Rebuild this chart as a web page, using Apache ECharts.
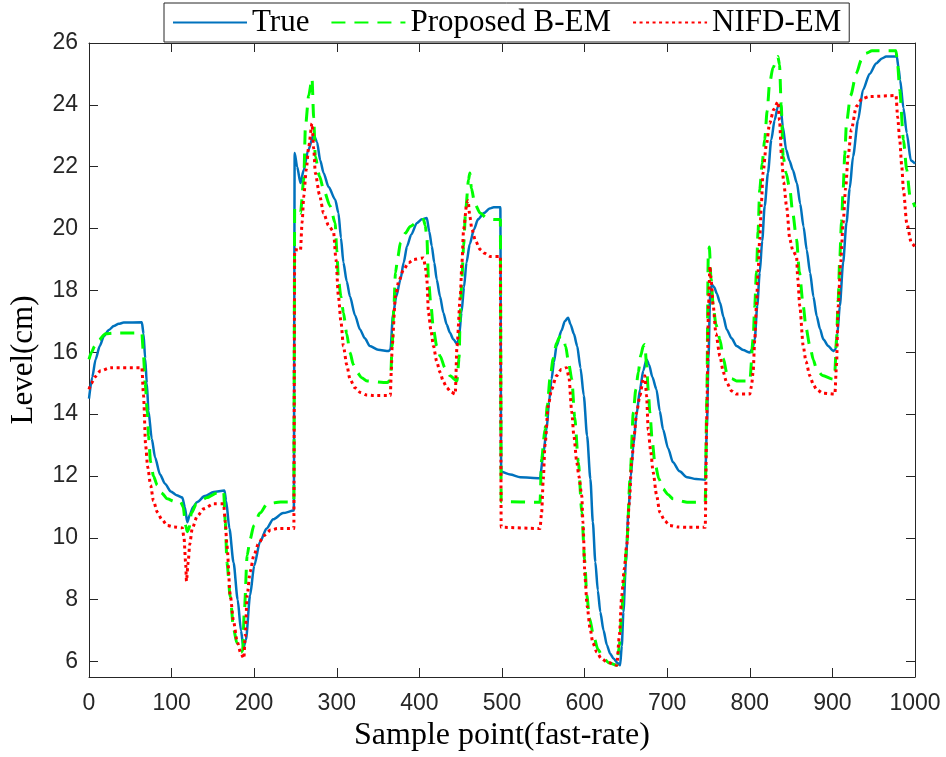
<!DOCTYPE html>
<html>
<head>
<meta charset="utf-8">
<script src="https://cdn.jsdelivr.net/npm/echarts@6/dist/echarts.min.js"></script>
<style>
html,body{margin:0;padding:0;background:#fff;}
#chart{width:946px;height:757px;}
</style>
</head>
<body>
<div id="chart"></div>
<script>
// ---- data (sample point, level in cm) ----
const seriesNames = ['True', 'Proposed B-EM', 'NIFD-EM'];
const xTicks = [0,100,200,300,400,500,600,700,800,900,1000];
const yTicks = [6,8,10,12,14,16,18,20,22,24,26];

const trueLevel = [
[0,14.5],[4,15.2],[8,15.77],[13,16.2],[18,16.52],[24,16.72],[30,16.85],[36,16.92],[42,16.96],[64,16.97],
[66,16.6],[68,15.8],[70,15.0],[72,14.1],[76,13.2],[80,12.6],[86,12.05],[92,11.75],[99,11.5],[106,11.38],
[113,11.3],[116,11.0],[119,10.5],[122,10.75],[126,11.0],[131,11.16],[140,11.35],[151,11.48],[164,11.53],
[166,11.2],[170,10.3],[175,9.2],[180,8.0],[184,7.0],[187,6.45],[190,6.7],[195,8.14],[200,9.1],[207,9.87],
[215,10.3],[223,10.6],[235,10.8],[248,10.88],[249,22.44],[252,22.0],[256,21.47],[260,21.9],[265,22.5],
[272,23.03],[276,22.8],[280,22.2],[284,21.8],[290,21.35],[298,20.94],[302,20.5],[305,19.7],[308,18.9],
[312,18.3],[316,17.8],[322,17.2],[328,16.74],[334,16.45],[340,16.2],[350,16.08],[363,16.04],[365,16.1],
[368,17.2],[372,17.8],[377,18.35],[381,18.9],[385,19.43],[390,19.8],[397,20.18],[403,20.3],[409,20.34],
[412,19.9],[415,19.43],[418,18.9],[421,18.35],[425,17.8],[429,17.28],[433,16.9],[437,16.63],[441,16.42],
[446,16.26],[448,16.5],[451,17.28],[454,18.1],[457,18.9],[461,19.5],[466,19.97],[471,20.3],[478,20.5],
[485,20.65],[490,20.69],[498,20.69],[499,12.14],[510,12.05],[522,11.96],[546,11.93],[550,12.7],[554,13.5],
[557,14.4],[560,15.13],[563,15.7],[566,16.2],[572,16.7],[576,17.0],[580,17.12],[583,16.9],[587,16.6],
[591,16.2],[595,15.5],[599,14.6],[603,13.3],[607,11.9],[610,10.5],[613,9.22],[616,8.3],[619,7.6],[623,7.0],
[627,6.53],[631,6.25],[635,6.1],[640,5.95],[643,5.88],[645,6.5],[647,7.6],[650,9.2],[653,10.83],[656,12.0],
[659,12.98],[663,14.0],[667,14.8],[671,15.4],[675,15.77],[678,15.6],[682,15.2],[687,14.8],[691,14.1],
[695,13.5],[701,12.9],[707,12.44],[715,12.15],[724,11.96],[735,11.9],[746,11.88],[748,13.5],[750,15.8],
[752,17.9],[754,18.19],[757,18.1],[760,17.9],[764,17.6],[768,17.15],[772,16.74],[778,16.45],[784,16.2],
[792,16.07],[800,15.99],[803,16.1],[806,16.42],[809,17.5],[812,18.57],[815,19.6],[818,20.72],[822,21.8],
[826,22.87],[830,23.5],[834,23.95],[837,24.0],[840,23.3],[844,22.55],[848,22.2],[852,21.9],[857,21.47],
[861,20.8],[865,20.07],[869,19.3],[873,18.57],[877,17.8],[881,17.17],[885,16.75],[889,16.42],[895,16.2],
[901,16.04],[904,16.1],[906,16.6],[909,17.5],[913,18.9],[917,20.18],[921,21.3],[925,22.33],[931,23.5],
[937,24.48],[945,25.0],[953,25.34],[960,25.5],[965,25.56],[978,25.56],[980,25.2],[982,24.8],[986,23.9],
[990,23.09],[995,22.2],[1000,22.1]
];

const proposedBEM = [
[0,15.77],[3,16.0],[7,16.2],[12,16.4],[20,16.6],[30,16.62],[64,16.62],[66,15.88],[68,15.0],[70.6,14.06],
[72,13.3],[74.6,12.45],[78,12.0],[82.7,11.7],[88,11.45],[94.8,11.26],[103,11.18],[111,11.16],[114,11.0],
[117,10.4],[119,10.2],[121,10.3],[124,10.8],[130,11.1],[143,11.3],[155,11.45],[163,11.5],[165,10.5],
[167,9.2],[171,8.1],[175,7.06],[179,6.6],[184,6.3],[186,6.35],[188,7.6],[191.5,9.43],[195,9.95],[199.6,10.4],
[207,10.8],[215.7,11.1],[232,11.16],[248,11.16],[249,20.67],[253,20.6],[256,20.5],[260,21.58],[262,23.3],
[266,24.3],[270,24.85],[272,23.6],[274,22.33],[279,21.7],[284,21.26],[292,20.72],[298,20.18],[300,19.3],
[302,18.35],[305,17.8],[308,17.28],[312,16.6],[316,15.99],[320,15.6],[324.5,15.35],[330,15.18],[336.6,15.07],
[361,15.02],[365,15.1],[367,16.2],[369,17.4],[371,18.57],[374,19.1],[377,19.54],[383,19.85],[389,20.07],
[397,20.2],[405,20.29],[407,20.1],[409,19.75],[411,18.35],[414,17.5],[417,16.74],[421,16.2],[425,15.88],
[431,15.5],[437,15.24],[445.5,15.07],[448,15.8],[449.5,17.28],[451.5,18.4],[453.5,19.43],[456,20.6],
[459.5,21.58],[461,21.8],[463,21.3],[467,20.8],[473.6,20.5],[481,20.35],[489.7,20.29],[498,20.29],[499,11.17],
[546,11.15],[548,12.55],[552,13.5],[555,14.3],[558,15.13],[562,15.8],[566,16.3],[570,16.5],[574,16.5],
[577,16.2],[581,15.6],[584.5,15.13],[588,13.9],[592.5,12.44],[596.6,10.83],[600,9.3],[602.7,8.14],[606,7.4],
[610.7,6.85],[616,6.4],[622.8,6.1],[630,5.95],[639,5.88],[642,6.5],[645,7.6],[648,8.7],[651,9.75],[655,11.9],
[659,14.06],[662,14.8],[665,15.35],[668,15.9],[671,16.2],[673,16.25],[675,15.6],[677,14.8],[679,14.06],
[682,13.1],[685,12.44],[690,11.9],[695,11.58],[701,11.4],[707,11.26],[715,11.2],[724,11.15],[746,11.15],
[748,14.5],[749.7,19.1],[751,19.4],[753,18.4],[755.7,17.5],[759,16.9],[763.8,16.42],[768,15.8],[772,15.35],
[778,15.15],[784,15.07],[800,15.07],[804,16.42],[806,17.5],[808,18.57],[810,19.9],[812,21.26],[815,22.1],
[818,22.87],[821,23.8],[824,24.7],[828,25.2],[834,25.56],[836,25.3],[838,24.0],[840.4,22.33],[844,21.8],
[848.5,21.26],[852,20.5],[856.6,19.65],[860,18.6],[864.7,17.5],[868,16.8],[872.7,16.2],[877,15.75],
[880.8,15.45],[888,15.25],[900.9,15.13],[903,15.4],[905,16.42],[907,17.7],[909,19.1],[911,20.2],[913,21.26],
[915,22.4],[917,23.41],[922,24.3],[929,25.02],[935,25.45],[941,25.67],[948,25.75],[977,25.75],[979,25.3],
[981.5,24.48],[986,22.87],[990,21.9],[994,21.04],[1000,20.7]
];

const nifdEM = [
[0,14.8],[3,15.0],[7,15.2],[14,15.4],[26,15.5],[64,15.5],[66,14.6],[68.6,12.98],[71,12.3],[74.6,11.7],
[78,11.2],[82.7,10.83],[88,10.6],[94.8,10.4],[103,10.35],[113,10.32],[115,10.0],[117,9.2],[118,8.6],
[120,9.2],[122,9.8],[125,10.3],[131,10.7],[139,10.94],[151,11.1],[163,11.1],[165,10.5],[167,9.75],
[171,8.14],[175,7.3],[179.4,6.64],[184,6.25],[187.5,6.1],[189,6.8],[191.5,8.14],[195,8.9],[199.6,9.43],
[205,9.8],[211.6,10.07],[220,10.25],[228,10.3],[248,10.3],[249,19.32],[256,19.3],[258,20.2],[260,21.04],
[263,21.9],[266,22.65],[270,23.4],[272,22.6],[274,21.8],[279,21.1],[284,20.5],[290,20.1],[296,19.9],
[299,19.0],[302,17.8],[305,17.0],[308,16.2],[312,15.6],[316,15.13],[322,14.85],[328.5,14.7],[336,14.62],
[344.6,14.6],[364.8,14.6],[366,15.4],[367,16.2],[371,17.8],[375,18.3],[381,18.68],[387,18.9],[393,19.0],
[405,19.05],[407,18.8],[409,18.35],[411,17.28],[414,16.7],[417,16.2],[421,15.7],[425,15.35],[429,15.05],
[433,14.86],[438,14.72],[443.4,14.65],[445.5,16.2],[449.5,17.8],[451.5,18.9],[453.5,19.97],[457.5,20.83],
[459,20.9],[461,20.4],[463.6,19.97],[468,19.6],[473.6,19.32],[479,19.2],[485.7,19.1],[498,19.1],[499,10.34],
[546,10.3],[548,10.83],[550,11.9],[552,12.98],[556,14.27],[560,14.8],[566,15.24],[572,15.45],[578,15.5],
[581,15.2],[584.5,14.06],[587,13.3],[590.6,12.44],[593,12.0],[596.6,11.36],[598,10.5],[600.6,8.68],[603,7.8],
[606.7,7.06],[610,6.6],[614.7,6.31],[620,6.1],[626.8,5.99],[639,5.88],[642,6.8],[645,8.14],[648,9.0],
[651,9.75],[654,11.1],[657,12.44],[660,13.3],[663,14.06],[667,14.6],[671,15.13],[673,15.24],[675,14.6],
[677,13.5],[680,12.8],[683,12.12],[687,11.4],[691,10.83],[697,10.55],[703,10.4],[713,10.35],[723.6,10.34],
[746,10.34],[748,14.0],[750,17.5],[751.7,18.78],[753,18.4],[755.7,17.5],[759,16.6],[763.8,15.88],[768,15.35],
[772,15.02],[778,14.75],[784,14.65],[800,14.65],[802,14.9],[804,15.35],[806,16.4],[808,17.5],[810,18.6],
[812,19.65],[814,20.8],[816,21.8],[820,22.7],[824,23.4],[829,23.85],[834,24.1],[836,23.5],[838.4,22.33],
[841,21.5],[844.5,20.72],[848.5,19.65],[852,19.3],[856.6,19.1],[858,18.4],[860.5,17.5],[864.7,16.2],
[868,15.7],[872.7,15.24],[877,14.95],[880.8,14.8],[888,14.68],[903,14.65],[905,15.6],[907,17.5],[910,18.9],
[913,20.18],[916,21.3],[919,22.33],[923,23.2],[929,23.95],[936,24.2],[945,24.27],[977,24.3],[979,23.6],
[981.5,22.87],[984,22.0],[986,21.26],[990,20.18],[995.6,19.54],[1000,19.4]
];

// ---- chart ----
const axisColor = '#262626';
const labelFont = {fontFamily: 'Liberation Sans', fontSize: 23, color: axisColor};
const serifFont = 'Liberation Serif';
const xMin = xTicks[0], xMax = xTicks[xTicks.length - 1];
const yMin = 5.5, yMax = yTicks[yTicks.length - 1];

function xAxisCfg(pos, showLabel) {
  return {
    type: 'value', position: pos, min: xMin, max: xMax, interval: 100,
    axisLine: {show: true, onZero: false, lineStyle: {color: axisColor, width: 1}},
    axisTick: {show: true, inside: true, length: 9, lineStyle: {color: axisColor}},
    axisLabel: Object.assign({show: showLabel, margin: 15,
      formatter: v => (xTicks.indexOf(v) >= 0 ? String(v) : '')}, labelFont),
    splitLine: {show: false}
  };
}
function yAxisCfg(pos, showLabel) {
  return {
    type: 'value', position: pos, min: yMin, max: yMax, splitNumber: 10,
    axisLine: {show: true, onZero: false, lineStyle: {color: axisColor, width: 1}},
    axisTick: {show: true, inside: true, length: 9, lineStyle: {color: axisColor}},
    axisLabel: Object.assign({
      show: showLabel, margin: 11, showMinLabel: false, padding: [7, 0, 0, 0],
      formatter: v => (yTicks.indexOf(v) >= 0 ? String(v) : '')
    }, labelFont),
    splitLine: {show: false}
  };
}

const xBottom = xAxisCfg('bottom', true);
xBottom.name = 'Sample point(fast-rate)';
xBottom.nameLocation = 'middle';
xBottom.nameGap = 43;
xBottom.nameTextStyle = {fontFamily: serifFont, fontSize: 32, color: '#000'};
const yLeft = yAxisCfg('left', true);
yLeft.name = 'Level(cm)';
yLeft.nameLocation = 'middle';
yLeft.nameGap = 50;
yLeft.nameTextStyle = {fontFamily: serifFont, fontSize: 31, color: '#000'};

const lineSmooth = 0.25;
const chart = echarts.init(document.getElementById('chart'), null, {renderer: 'canvas'});
chart.setOption({
  animation: false,
  backgroundColor: '#fff',
  grid: {left: 88, right: 31, top: 43, bottom: 79, containLabel: false},
  xAxis: [xBottom, xAxisCfg('top', false)],
  yAxis: [yLeft, yAxisCfg('right', false)],
  legend: {
    data: seriesNames,
    left: 164, top: 3,
    padding: [4, 8, 4, 8],
    itemGap: 21,
    itemWidth: 74, itemHeight: 14,
    backgroundColor: '#fff',
    borderColor: axisColor, borderWidth: 1,
    itemStyle: {opacity: 0},
    textStyle: {fontFamily: serifFont, fontSize: 31, color: '#000'},
    selectedMode: false
  },
  series: [
    {name: seriesNames[0], type: 'line', data: trueLevel, symbol: 'none', showSymbol: false,
     smooth: lineSmooth, smoothMonotone: 'x',
     lineStyle: {color: '#0072BD', width: 2.5}, itemStyle: {color: '#0072BD'}},
    {name: seriesNames[1], type: 'line', data: proposedBEM, symbol: 'none', showSymbol: false,
     smooth: lineSmooth, smoothMonotone: 'x',
     lineStyle: {color: '#00FF00', width: 3, type: [14, 9]}, itemStyle: {color: '#00FF00'}},
    {name: seriesNames[2], type: 'line', data: nifdEM, symbol: 'none', showSymbol: false,
     smooth: lineSmooth, smoothMonotone: 'x',
     lineStyle: {color: '#FF0000', width: 3, type: [3, 3.5]}, itemStyle: {color: '#FF0000'}}
  ]
});
</script>
</body>
</html>
